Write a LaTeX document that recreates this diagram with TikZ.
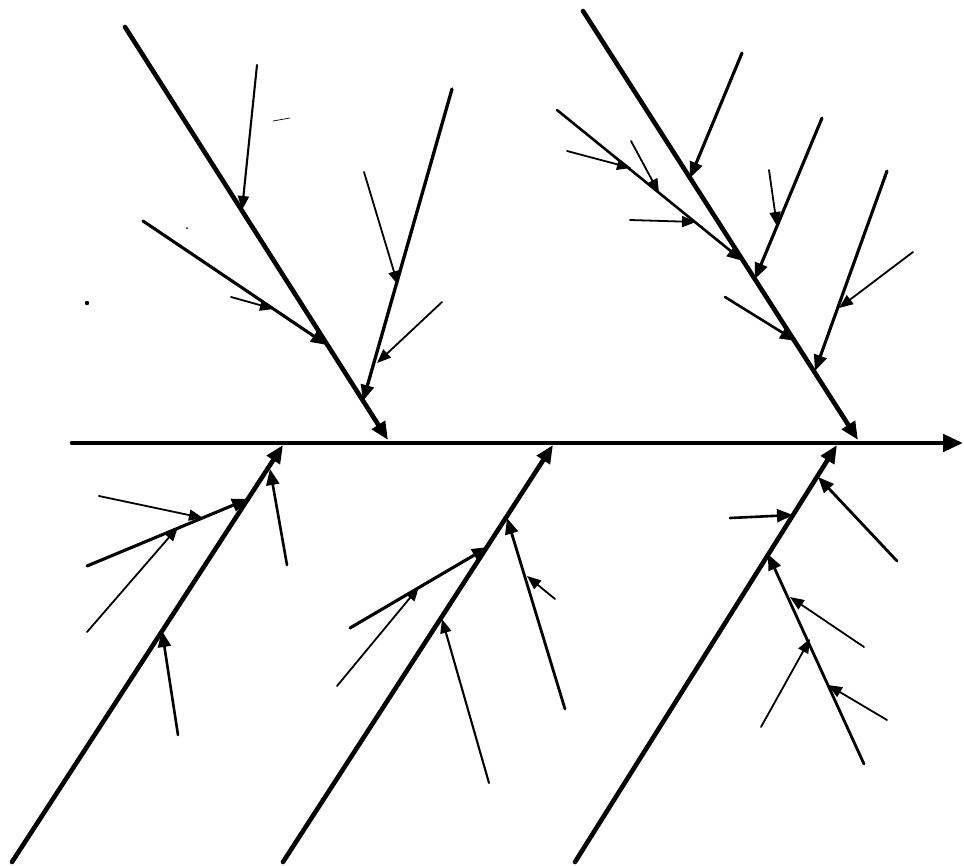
\documentclass[tikz,border=0pt]{standalone}
\usetikzlibrary{arrows.meta}
\begin{document}
\begin{tikzpicture}[x=1pt,y=-1pt,line cap=round,
  bone/.style={line width=4.6pt,-{Triangle[length=18pt,width=15pt]}},
  spine/.style={line width=4.6pt,-{Triangle[length=20pt,width=17pt]}},
  sub/.style={line width=3.1pt,-{Triangle[length=16pt,width=13pt]}},
  twig/.style={line width=1.8pt,-{Triangle[length=14pt,width=11pt]}}]
\useasboundingbox[fill=white] (0,0) rectangle (964,865);
% spine
\coordinate (s0) at (72,443); \coordinate (s1) at (963,443);
\draw[spine] (s0) -- (s1);
% ---------- top-left bone
\coordinate (A0) at (125,27); \coordinate (A1) at (388,440);
\draw[bone] (A0) -- (A1);
\coordinate (a10) at (257,65); \coordinate (a11) at (242,210);
\draw[twig,line width=2.1pt] (a10) -- (a11);
\coordinate (a20) at (143,221); \coordinate (a21) at (327,345);
\draw[sub] (a20) -- (a21);
\coordinate (a30) at (231,297); \coordinate (a31) at (274,309);
\draw[twig] (a30) -- (a31);
\coordinate (a40) at (452,89); \coordinate (a41) at (363,401);
\draw[sub,line width=3.3pt] (a40) -- (a41);
\coordinate (a50) at (364,172); \coordinate (a51) at (398,285);
\draw[twig] (a50) -- (a51);
\coordinate (a60) at (442,302); \coordinate (a61) at (377,363);
\draw[twig] (a60) -- (a61);
% stray marks
\fill (87,303) circle (2.2pt);
\fill (187,228) circle (1pt);
\draw[line width=0.7pt] (273,121) -- (290,118);
% ---------- top-right bone
\coordinate (B0) at (583,11); \coordinate (B1) at (858,440);
\draw[bone] (B0) -- (B1);
\coordinate (b10) at (742,53); \coordinate (b11) at (690,178);
\draw[sub] (b10) -- (b11);
\coordinate (b20) at (557,110); \coordinate (b21) at (743,261);
\draw[sub,line width=2.6pt] (b20) -- (b21);
\coordinate (b30) at (567,151); \coordinate (b31) at (631,168);
\draw[twig] (b30) -- (b31);
\coordinate (b40) at (631,141); \coordinate (b41) at (659,193);
\draw[twig] (b40) -- (b41);
\coordinate (b50) at (630,220); \coordinate (b51) at (696,222);
\draw[twig] (b50) -- (b51);
\coordinate (b60) at (822,118); \coordinate (b61) at (755,279);
\draw[sub] (b60) -- (b61);
\coordinate (b70) at (769,170); \coordinate (b71) at (777,226);
\draw[twig] (b70) -- (b71);
\coordinate (b80) at (725,297); \coordinate (b81) at (796,341);
\draw[sub,line width=2.6pt] (b80) -- (b81);
\coordinate (b90) at (887,171); \coordinate (b91) at (815,371);
\draw[sub] (b90) -- (b91);
\coordinate (b100) at (913,252); \coordinate (b101) at (839,308);
\draw[twig] (b100) -- (b101);
% ---------- bottom-left bone
\coordinate (C0) at (12,862); \coordinate (C1) at (283,445);
\draw[bone] (C0) -- (C1);
\coordinate (c10) at (87,566); \coordinate (c11) at (248,499);
\draw[sub] (c10) -- (c11);
\coordinate (c20) at (99,496); \coordinate (c21) at (203,518);
\draw[twig] (c20) -- (c21);
\coordinate (c30) at (87,632); \coordinate (c31) at (178,527);
\draw[twig] (c30) -- (c31);
\coordinate (c40) at (287,565); \coordinate (c41) at (270,469);
\draw[sub,line width=2.6pt] (c40) -- (c41);
\coordinate (c50) at (178,735); \coordinate (c51) at (162,631);
\draw[sub,line width=2.6pt] (c50) -- (c51);
% ---------- bottom-middle bone
\coordinate (D0) at (283,862); \coordinate (D1) at (553,445);
\draw[bone] (D0) -- (D1);
\coordinate (d10) at (350,628); \coordinate (d11) at (488,547);
\draw[sub] (d10) -- (d11);
\coordinate (d20) at (337,686); \coordinate (d21) at (419,587);
\draw[twig] (d20) -- (d21);
\coordinate (d30) at (565,709); \coordinate (d31) at (507,518);
\draw[sub,line width=2.8pt] (d30) -- (d31);
\coordinate (d40) at (555,599); \coordinate (d41) at (527,576);
\draw[twig] (d40) -- (d41);
\coordinate (d50) at (489,783); \coordinate (d51) at (442,619);
\draw[twig,line width=2.1pt] (d50) -- (d51);
% ---------- bottom-right bone
\coordinate (E0) at (575,862); \coordinate (E1) at (837,445);
\draw[bone] (E0) -- (E1);
\coordinate (e10) at (730,518); \coordinate (e11) at (793,515);
\draw[sub,line width=2.6pt] (e10) -- (e11);
\coordinate (e20) at (897,561); \coordinate (e21) at (818,477);
\draw[sub,line width=2.8pt] (e20) -- (e21);
\coordinate (e30) at (864,764); \coordinate (e31) at (768,554);
\draw[sub,line width=2.8pt] (e30) -- (e31);
\coordinate (e40) at (864,647); \coordinate (e41) at (790,597);
\draw[twig] (e40) -- (e41);
\coordinate (e50) at (761,727); \coordinate (e51) at (810,639);
\draw[twig] (e50) -- (e51);
\coordinate (e60) at (887,720); \coordinate (e61) at (828,685);
\draw[twig] (e60) -- (e61);
\end{tikzpicture}
\end{document}
